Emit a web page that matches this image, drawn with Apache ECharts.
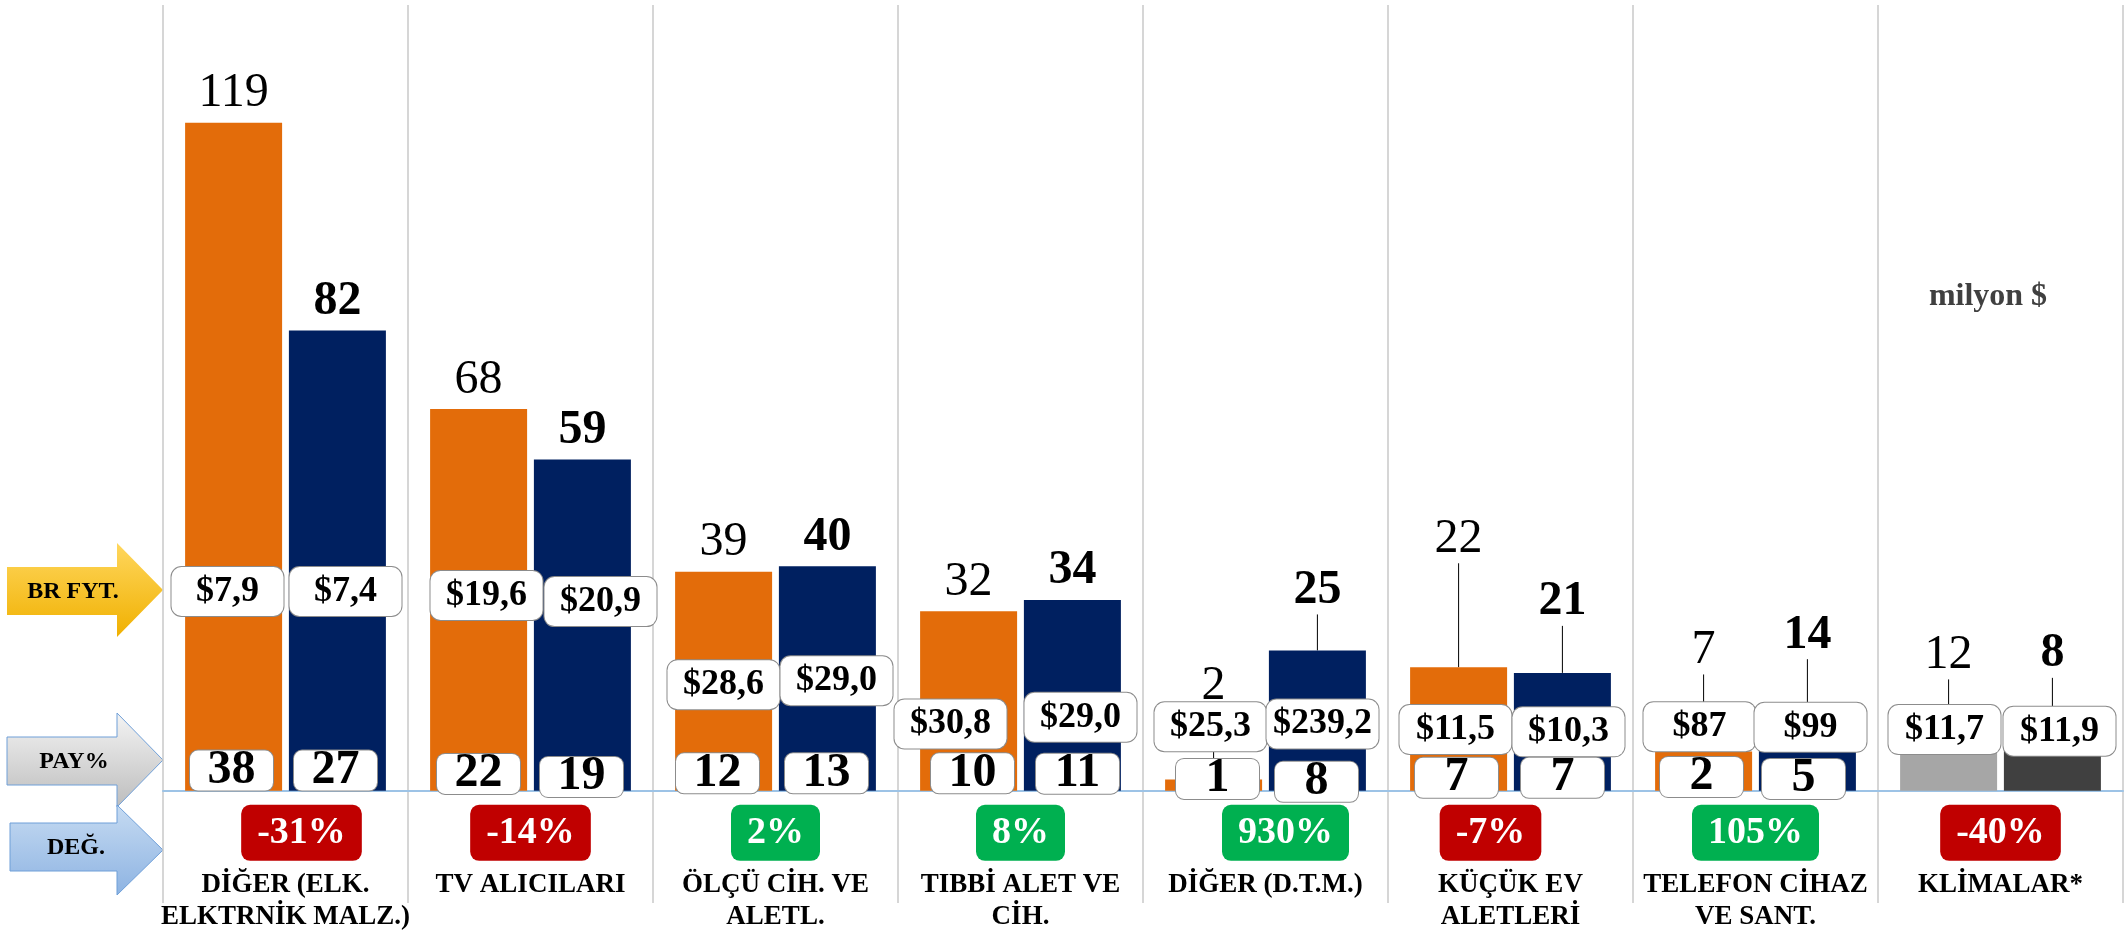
<!DOCTYPE html>
<html>
<head>
<meta charset="utf-8">
<script src="https://cdn.jsdelivr.net/npm/echarts@6/dist/echarts.min.js"></script>
<style>
  html, body { margin: 0; padding: 0; background: #fff; }
  #main { width: 2127px; height: 936px; }
</style>
</head>
<body>
<div id="main"></div>
<script>
// --- data (milyon $) ---
const categories = [
  'DİĞER (ELK.\nELKTRNİK MALZ.)', 'TV ALICILARI', 'ÖLÇÜ CİH. VE\nALETL.', 'TIBBİ ALET VE\nCİH.',
  'DİĞER (D.T.M.)', 'KÜÇÜK EV\nALETLERİ', 'TELEFON CİHAZ\nVE SANT.', 'KLİMALAR*'
]
const value2016 = [119, 68, 39, 32, 2, 22, 7, 12]
const value2017 = [82, 59, 40, 34, 25, 21, 14, 8]
const unitPrice2016 = ['$7,9', '$19,6', '$28,6', '$30,8', '$25,3', '$11,5', '$87', '$11,7']
const unitPrice2017 = ['$7,4', '$20,9', '$29,0', '$29,0', '$239,2', '$10,3', '$99', '$11,9']
const share2016 = [38, 22, 12, 10, 1, 7, 2]
const share2017 = [27, 19, 13, 11, 8, 7, 5]
const changePct = [-31, -14, 2, 8, 930, -7, 105, -40]

// --- where the annotation boxes sit (px shift from category centre, y in axis units) ---
const topLift2016 = [0, 0, 0, 0, -64, -99, -72, -39]
const topLift2017 = [0, 0, 0, 0, -31, -42, -48, -63]
const priceDx2016 = [-58, -44, -52, -70, -55, -55, -56, -56]
const priceDx2017 = [60, 70, 61, 60, 57, 58, 55, 59]
const priceY2016 = [35.5, 34.8, 18.9, 11.9, 11.4, 10.9, 11.4, 10.9]
const priceY2017 = [35.5, 33.7, 19.6, 13.1, 11.9, 10.5, 11.3, 10.6]
const shareDx2016 = [-54, -52, -58, -48, -48, -54, -54]
const shareDx2017 = [50, 51, 51, 57, 51, 52, 48]
const shareY2016 = [3.6, 3.0, 3.1, 3.1, 2.1, 2.3, 2.45]
const shareY2017 = [3.6, 2.45, 3.1, 3.05, 1.6, 2.3, 2.1]
const changeDx = [16, 0, 0, 0, 20, -20, 0, 0]
const changeY = -7.5

const F = 'Liberation Serif'
const ORANGE = '#e36c0a'
const NAVY = '#002060'

const chart = echarts.init(document.getElementById('main'))

function barData(values, lift, lastColor) {
  return values.map((v, i) => ({
    value: v,
    itemStyle: i === values.length - 1 ? { color: lastColor } : undefined,
    labelLine: { show: lift[i] !== 0 }
  }))
}

const priceBox = {
  show: true,
  position: 'inside',
  fontFamily: F,
  fontWeight: 'bold',
  fontSize: 36,
  lineHeight: 35,
  color: '#000',
  backgroundColor: '#fff',
  borderColor: '#8c8c8c',
  borderWidth: 1,
  borderRadius: 10,
  width: 104,
  align: 'center',
  padding: [7, 4]
}
const shareBox = Object.assign({}, priceBox, {
  fontSize: 48, lineHeight: 40, width: 83, padding: [0, 0], borderRadius: 8
})

function boxSeries(texts, dx, ys, box) {
  return {
    type: 'scatter',
    symbolSize: 1,
    itemStyle: { color: 'transparent', opacity: 1 },
    z: 5,
    silent: true,
    data: texts.map((t, i) => ({
      value: [i, ys[i]],
      label: Object.assign({}, box, { offset: [dx[i], 0], formatter: String(t) })
    }))
  }
}

function arrow(y0, y1, h0, h1, x0, fill, stroke) {
  const xm = 117, tip = 163
  return {
    type: 'polygon',
    shape: { points: [[x0, y0], [xm, y0], [xm, h0], [tip, (h0 + h1) / 2], [xm, h1], [xm, y1], [x0, y1]] },
    style: { fill: fill, stroke: stroke, lineWidth: 1 }
  }
}
function grad(a, b) {
  return new echarts.graphic.LinearGradient(0, 0, 0, 1, [{ offset: 0, color: a }, { offset: 1, color: b }])
}
function arrowText(x, y, t) {
  return { type: 'text', x: x, y: y, style: { text: t, font: 'bold 24px "Liberation Serif"', fill: '#000', align: 'center', verticalAlign: 'middle' } }
}

chart.setOption({
  animation: false,
  grid: { left: 163, right: 4, top: 5, bottom: 33, outerBoundsMode: 'none', containLabel: false },
  xAxis: {
    type: 'category',
    data: categories,
    axisTick: { show: false },
    axisLine: { onZero: true, lineStyle: { color: '#9dc3e6', width: 2 } },
    splitLine: { show: true, interval: 0, lineStyle: { color: '#c8c8c8', width: 1.5 } },
    axisLabel: {
      interval: 0, margin: -34, fontFamily: F, fontWeight: 'bold', fontSize: 27,
      lineHeight: 32, color: '#000'
    }
  },
  yAxis: {
    type: 'value', min: -20, max: 140, show: false, splitLine: { show: false }
  },
  series: [
    {
      type: 'bar',
      barWidth: 97,
      barGap: '7%',
      itemStyle: { color: ORANGE },
      data: barData(value2016, topLift2016, '#a6a6a6'),
      label: { show: true, position: 'top', distance: 5, fontFamily: F, fontSize: 48, color: '#000' },
      labelLine: { lineStyle: { color: '#000', width: 1 } },
      labelLayout: p => ({ dy: topLift2016[p.dataIndex] })
    },
    {
      type: 'bar',
      barWidth: 97,
      barGap: '7%',
      itemStyle: { color: NAVY },
      data: barData(value2017, topLift2017, '#404040'),
      label: { show: true, position: 'top', distance: 5, fontFamily: F, fontWeight: 'bold', fontSize: 48, color: '#000' },
      labelLine: { lineStyle: { color: '#000', width: 1 } },
      labelLayout: p => ({ dy: topLift2017[p.dataIndex] })
    },
    boxSeries(unitPrice2016, priceDx2016, priceY2016, priceBox),
    boxSeries(unitPrice2017, priceDx2017, priceY2017, priceBox),
    boxSeries(share2016, shareDx2016, shareY2016, shareBox),
    boxSeries(share2017, shareDx2017, shareY2017, shareBox),
    {
      type: 'scatter',
      symbolSize: 1,
      itemStyle: { color: 'transparent', opacity: 1 },
      z: 6,
      silent: true,
      data: changePct.map((v, i) => ({
        value: [i, changeY],
        label: {
          show: true, position: 'inside', offset: [changeDx[i], 0],
          formatter: v + '%',
          fontFamily: F, fontWeight: 'bold', fontSize: 38, lineHeight: 38, color: '#fff',
          backgroundColor: v < 0 ? '#c00000' : '#00b050',
          borderRadius: 9, padding: [9, 16]
        }
      }))
    }
  ],
  graphic: [
    arrow(567, 615, 543, 637, 7, grad('#ffd75e', '#f0b000'), 'rgba(0,0,0,0)'),
    arrow(737, 785, 713, 807, 7, grad('#f4f4f4', '#bdbdbd'), '#6f9fd8'),
    arrow(823, 871, 805, 895, 10, grad('#c6dbf2', '#8db3e2'), '#6f9fd8'),
    arrowText(73, 592, 'BR FYT.'),
    arrowText(74, 762, 'PAY%'),
    arrowText(76, 848, 'DEĞ.'),
    { type: 'text', x: 1988, y: 297, style: { text: 'milyon $', font: 'bold 32px "Liberation Serif"', fill: '#404040', align: 'center', verticalAlign: 'middle' } }
  ]
})
</script>
</body>
</html>
